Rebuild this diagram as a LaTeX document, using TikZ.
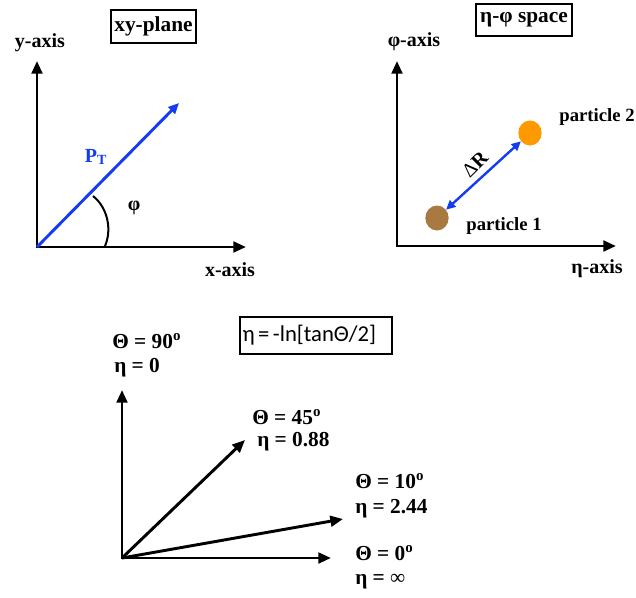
\documentclass[tikz,border=0pt]{standalone}
\usepackage{fontspec}
\setmainfont{Liberation Serif}
\newfontfamily\calib{Carlito}
\usetikzlibrary{arrows.meta,shapes.geometric}
\definecolor{vecblue}{RGB}{20,60,240}
\definecolor{pbrown}{RGB}{168,122,66}
\definecolor{porange}{RGB}{255,153,0}
\begin{document}
\begin{tikzpicture}[x=0.75pt,y=-0.75pt,
  bigtip/.tip={Triangle[length=9.5pt,width=8pt]},
  bluetip/.tip={Triangle[length=8pt,width=7pt]},
  smalltip/.tip={Triangle[length=7pt,width=6.5pt]},
  axisline/.style={line width=2.2pt},
  bluevec/.style={draw=vecblue,line width=2.2pt},
  lbl/.style={font=\fontsize{15}{18}\selectfont\bfseries, inner sep=0pt},
  plbl/.style={font=\fontsize{14}{17}\selectfont\bfseries, inner sep=0pt},
  blbl/.style={font=\fontsize{16}{19}\selectfont\bfseries, inner sep=0pt, anchor=west},
  titlebox/.style={draw, line width=0.8pt, font=\fontsize{16}{19}\selectfont\bfseries, inner sep=0pt},
  particle/.style={ellipse, inner sep=0pt, minimum width=17.5pt, minimum height=18.75pt}
]
\useasboundingbox (0,0) rectangle (636,597);

% ---------- xy-plane ----------
\node[titlebox, minimum width=63.75pt, minimum height=24.75pt] (xyp) at (153.5,26.5) {xy-plane};
\coordinate (o1) at (37,247);
\coordinate (y1) at (37,61);
\coordinate (x1) at (246,247);
\coordinate (pt) at (179,103);
\draw[axisline, bigtip-bigtip] (y1) -- (o1) -- (x1);
\draw[bluevec, -bluetip] (o1) -- (pt);
\draw[line width=1.5pt] (93,196) .. controls (108,208) and (112,230) .. (105,246);
\node[lbl] (ylab) at (40,43) {y-axis};
\node[lbl] (xlab) at (230,270) {x-axis};
\node[lbl] (philab) at (134,208) {φ};
\node[lbl, text=vecblue] (ptlab) at (96,157) {P\textsubscript{T}};

% ---------- eta-phi space ----------
\node[titlebox, minimum width=72pt, minimum height=24pt] (ephs) at (524,20) {η-φ space};
\coordinate (o2) at (397,246);
\coordinate (y2) at (397,61);
\coordinate (x2) at (616,246);
\draw[axisline, bigtip-bigtip] (y2) -- (o2) -- (x2);
\node[particle, fill=pbrown] (p1) at (437,218) {};
\node[particle, fill=porange] (p2) at (530,133) {};
\draw[draw=vecblue, line width=1.8pt, smalltip-smalltip] (p1) -- (p2);
\node[lbl, rotate=45] (dr) at (475,164) {{\mdseries ∆}\kern0.5pt R};
\node[lbl] (phax) at (414,42) {φ-axis};
\node[lbl] (etax) at (597,269) {η-axis};
\node[plbl] (p2lab) at (597,117) {particle 2};
\node[plbl] (p1lab) at (504,226) {particle 1};

% ---------- eta definition ----------
\node[draw, line width=0.8pt, font=\calib\fontsize{17}{20}\selectfont, text width=110pt, align=left, minimum height=27.75pt, inner xsep=2pt, inner ysep=0pt] (formula) at (316,335.5) {η\hspace{0.15em}=\hspace{0.15em}-ln[tanΘ/2]};
\coordinate (o3) at (122,558);
\coordinate (t90) at (122,390);
\coordinate (t45) at (245,440);
\coordinate (t10) at (343,519);
\coordinate (t0) at (331,558);
\draw[axisline, bigtip-bigtip] (t90) -- (o3) -- (t0);
\draw[axisline, -bigtip] (o3) -- (t45);
\draw[axisline, -bigtip] (o3) -- (t10);

\node[blbl] (l90a) at (112,341) {Θ = 90\textsuperscript{o}};
\node[blbl] (l90b) at (114,368) {η = 0};
\node[blbl] (l45a) at (252,417) {Θ = 45\textsuperscript{o}};
\node[blbl] (l45b) at (257,442) {η = 0.88};
\node[blbl] (l10a) at (355,481) {Θ = 10\textsuperscript{o}};
\node[blbl] (l10b) at (355,509) {η = 2.44};
\node[blbl] (l0a) at (355,553) {Θ = 0\textsuperscript{o}};
\node[blbl] (l0b) at (355,582) {η = {\mdseries ∞}};
\end{tikzpicture}
\end{document}
